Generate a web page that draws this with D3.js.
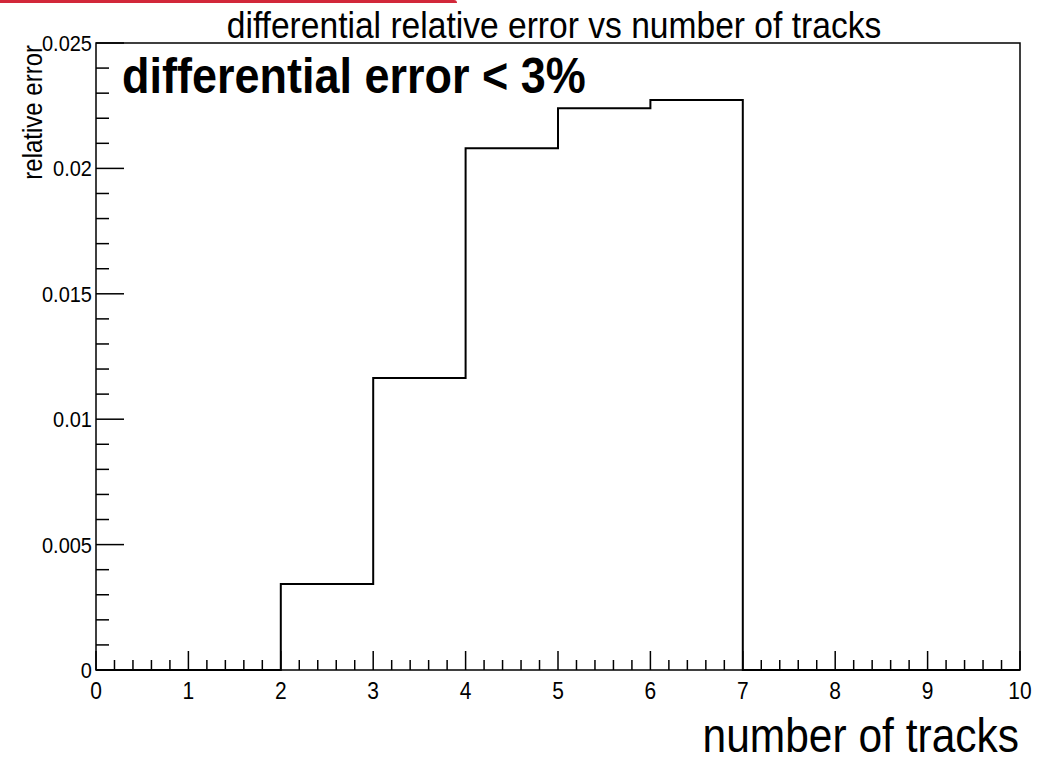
<!DOCTYPE html>
<html>
<head>
<meta charset="utf-8">
<title>differential relative error vs number of tracks</title>
<style>
  body { margin: 0; background: #fff; }
  text { font-family: 'Liberation Sans', Arial, sans-serif; fill: #000; }
</style>
</head>
<body>
<div id="chart"></div>
<script src="https://cdnjs.cloudflare.com/ajax/libs/d3/7.8.5/d3.min.js"></script>
<script>
// bin edges and contents
var binEdges = [0, 1, 2, 3, 4, 5, 6, 7, 8, 9, 10];
var binValues = [0, 0, 0.00343, 0.01164, 0.0208, 0.0224, 0.02273, 0, 0, 0];
var xTicks = [0, 1, 2, 3, 4, 5, 6, 7, 8, 9, 10];
var yTicks = [0, 0.005, 0.01, 0.015, 0.02, 0.025];
var yTickLabels = ["0", "0.005", "0.01", "0.015", "0.02", "0.025"];

var width = 1042, height = 764;
var margin = {left: 96, right: 22, top: 43, bottom: 94};
var stretch = 1.12; // the original text is a little taller than Liberation Sans

var svg = d3.select("#chart").append("svg")
  .attr("width", width)
  .attr("height", height);

function place(px, py) {
  return "translate(" + px + "," + py + ") scale(1," + stretch + ")";
}

// red strip in the top-left corner
svg.append("path")
  .attr("d", "M0,0 H454 A3,3 0 0 1 457,3 H0 Z")
  .attr("fill", "#d2283a");

var x = d3.scaleLinear().domain([0, 10]).range([margin.left, width - margin.right]);
var y = d3.scaleLinear().domain([0, 0.025]).range([height - margin.bottom, margin.top]);

// frame
svg.append("rect")
  .attr("x", x(0)).attr("y", y(0.025))
  .attr("width", x(10) - x(0)).attr("height", y(0) - y(0.025))
  .attr("fill", "none").attr("stroke", "#000").attr("stroke-width", 1.5);

// x ticks
var xMinor = d3.range(0, 10.001, 0.2);
svg.append("g").selectAll("line")
  .data(xMinor)
  .enter().append("line")
  .attr("x1", function(d){ return x(d); })
  .attr("x2", function(d){ return x(d); })
  .attr("y1", y(0))
  .attr("y2", function(d){ return Math.abs(d - Math.round(d)) < 1e-6 ? y(0) - 19 : y(0) - 10; })
  .attr("stroke", "#000").attr("stroke-width", 1.5);

svg.append("g").selectAll("text")
  .data(xTicks)
  .enter().append("text")
  .attr("transform", function(d){ return place(x(d), y(0) + 29); })
  .attr("text-anchor", "middle")
  .attr("font-size", 21)
  .text(function(d){ return d; });

// y ticks
var yMinor = d3.range(0, 0.02501, 0.001);
svg.append("g").selectAll("line")
  .data(yMinor)
  .enter().append("line")
  .attr("x1", x(0))
  .attr("x2", function(d, i){ return i % 5 === 0 ? x(0) + 28 : x(0) + 13; })
  .attr("y1", function(d){ return y(d); })
  .attr("y2", function(d){ return y(d); })
  .attr("stroke", "#000").attr("stroke-width", 1.5);

svg.append("g").selectAll("text")
  .data(yTicks)
  .enter().append("text")
  .attr("transform", function(d){ return place(x(0) - 4, y(d) + 8); })
  .attr("text-anchor", "end")
  .attr("font-size", 20)
  .text(function(d, i){ return yTickLabels[i]; });

// histogram outline
var pts = [[binEdges[0], 0]];
binValues.forEach(function(v, i){
  pts.push([binEdges[i], v]);
  pts.push([binEdges[i + 1], v]);
});
pts.push([binEdges[binEdges.length - 1], 0]);

var line = d3.line()
  .x(function(d){ return x(d[0]); })
  .y(function(d){ return y(d[1]); });

svg.append("path")
  .datum(pts)
  .attr("d", line)
  .attr("fill", "none")
  .attr("stroke", "#000")
  .attr("stroke-width", 2);

// titles
svg.append("text")
  .attr("transform", place(554, 38))
  .attr("text-anchor", "middle")
  .attr("font-size", 33.6)
  .text("differential relative error vs number of tracks");

svg.append("text")
  .attr("transform", place(x(10) - 1, 752))
  .attr("text-anchor", "end")
  .attr("font-size", 42.5)
  .text("number of tracks");

svg.append("text")
  .attr("transform", "translate(42," + (margin.top + 2) + ") rotate(-90) scale(1," + stretch + ")")
  .attr("text-anchor", "end")
  .attr("font-size", 24)
  .text("relative error");

svg.append("text")
  .attr("transform", place(122, 93))
  .attr("font-size", 45)
  .attr("font-weight", "bold")
  .text("differential error < 3%");
</script>
</body>
</html>
